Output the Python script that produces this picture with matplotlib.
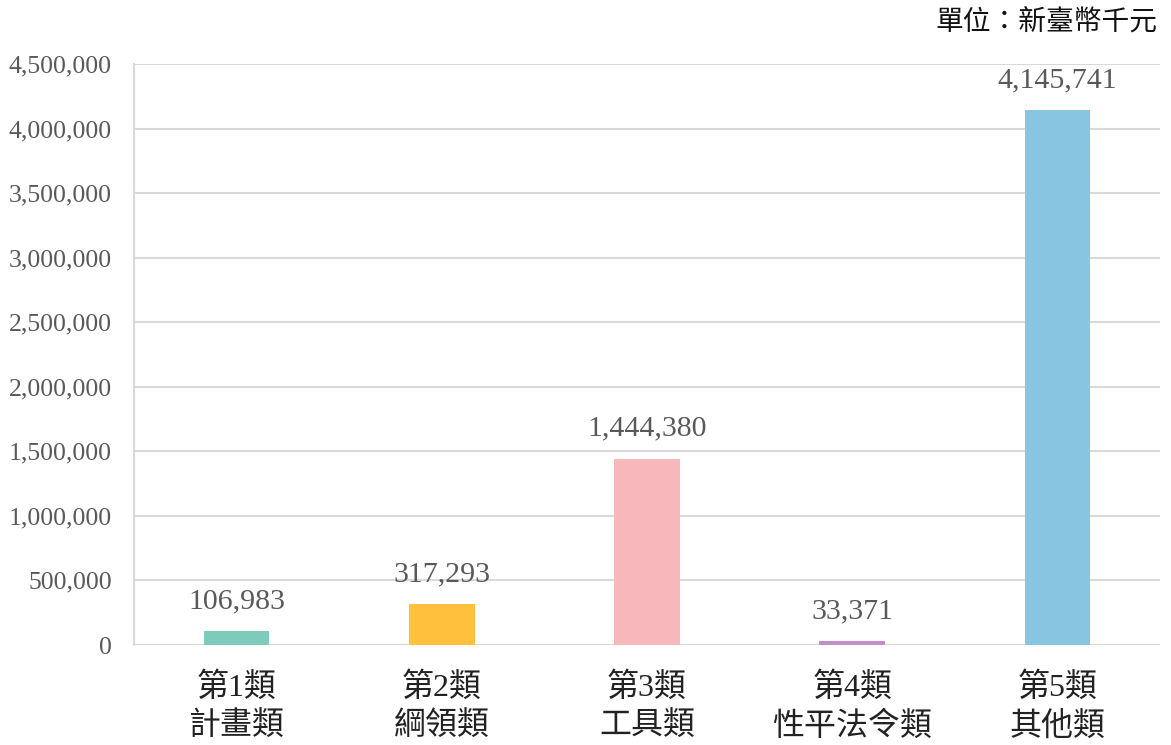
import matplotlib
matplotlib.use("Agg")
import matplotlib.pyplot as plt
from matplotlib.ticker import FuncFormatter

plt.rcParams['font.family'] = ['Liberation Serif', 'Noto Sans CJK TC', 'DejaVu Sans']

categories = ["第1類\n計畫類", "第2類\n綱領類", "第3類\n工具類", "第4類\n性平法令類", "第5類\n其他類"]
values = [106983, 317293, 1444380, 33371, 4145741]
colors = ["#7ECBBB", "#FFC13B", "#F7B8BC", "#C38FC8", "#87C5E0"]
yticks = [0, 500000, 1000000, 1500000, 2000000, 2500000, 3000000, 3500000, 4000000, 4500000]
unit_label = "單位：新臺幣千元"

fig = plt.figure(figsize=(11.71, 7.45), dpi=100)
ax = fig.add_axes([134/1171, 1 - 645/745, (1160 - 134)/1171, (645 - 64)/745])

x = range(len(categories))
ax.bar(x, values, width=0.32, color=colors, zorder=3)
for xi, v in zip(x, values):
    ax.text(xi, v + 130000, f"{v:,}", ha='center', va='bottom', fontsize=21.5, color='#595959')

ax.set_xlim(-0.5, len(categories) - 0.5)
ax.set_ylim(0, 4500000)
ax.set_yticks(yticks)
ax.yaxis.set_major_formatter(FuncFormatter(lambda v, p: f"{int(v):,}"))
ax.grid(axis='y', color='#D9D9D9', linewidth=1.5, zorder=0)
ax.set_xticks(list(x))
ax.set_xticklabels(categories, fontsize=23, color='#222222', linespacing=1.35)
ax.tick_params(axis='y', labelsize=18.5, labelcolor='#595959', length=0, pad=16)
ax.tick_params(axis='x', length=0, pad=20)
for s in ['top', 'right', 'bottom']:
    ax.spines[s].set_visible(False)
ax.spines['left'].set_color('#D9D9D9')
ax.spines['left'].set_linewidth(1.5)

fig.text(1157/1171, 1 - 23/745, unit_label, ha='right', va='center', fontsize=20, color='#111111')

fig.savefig("out.png", dpi=100)
